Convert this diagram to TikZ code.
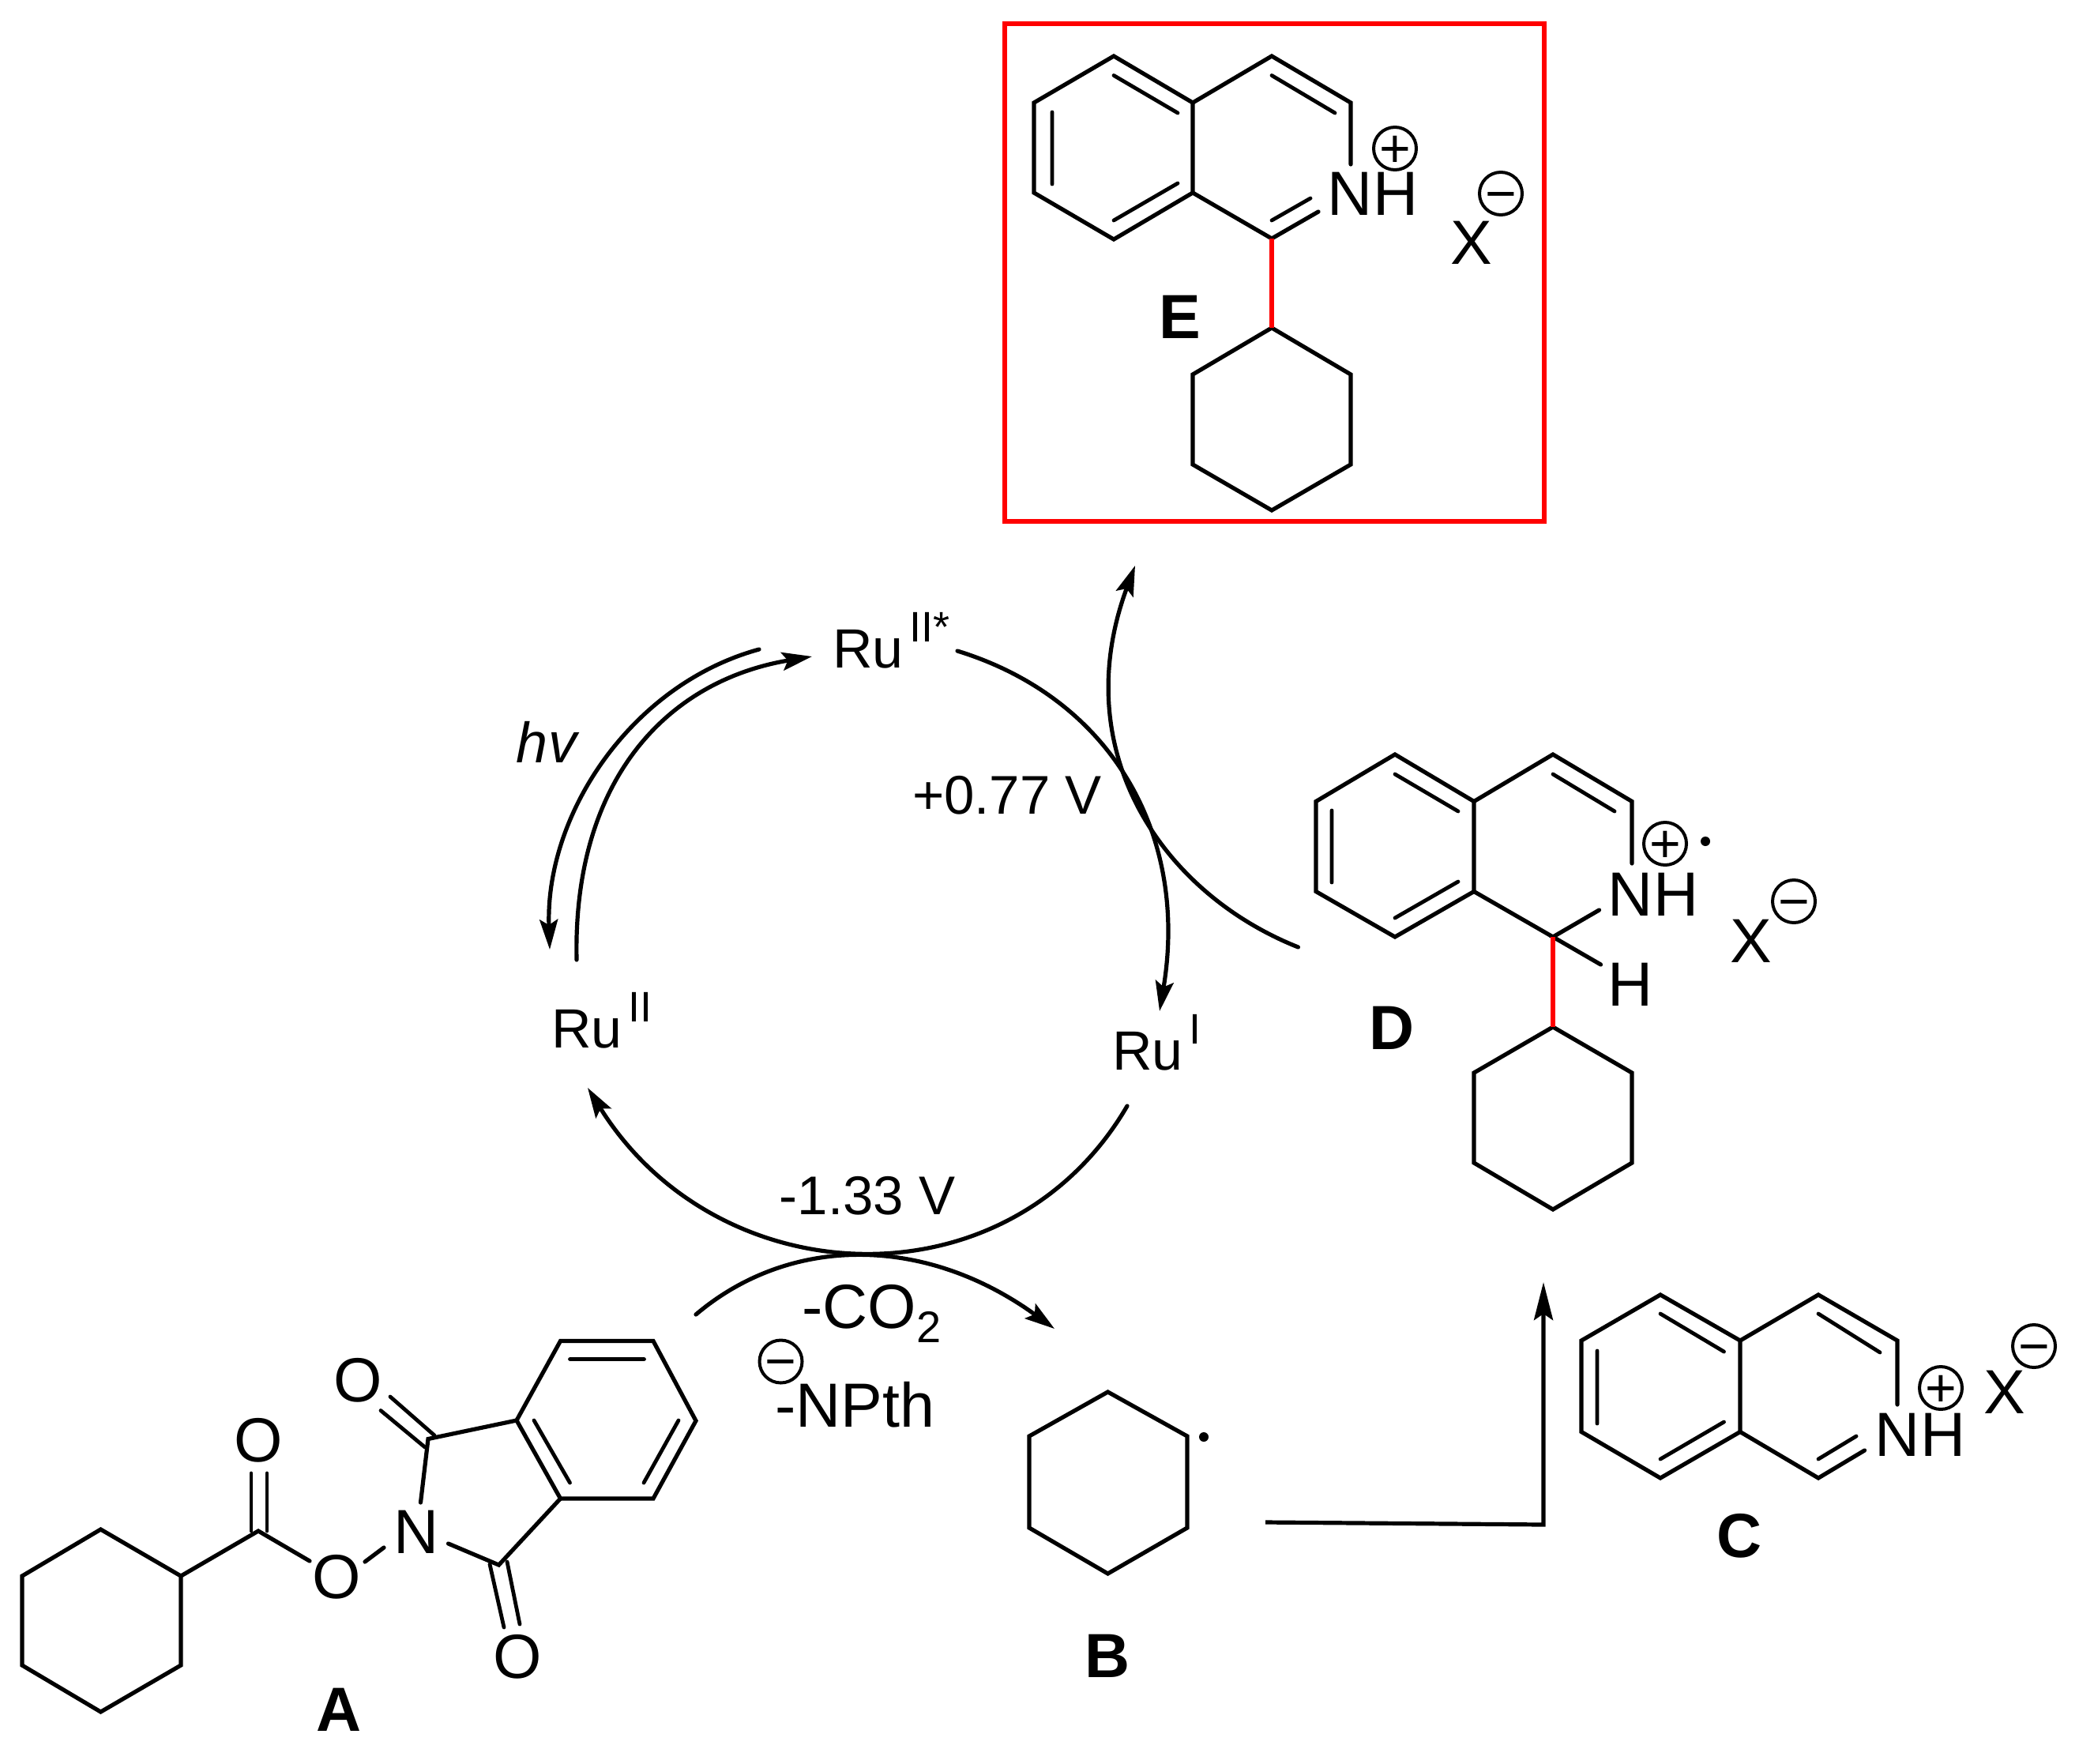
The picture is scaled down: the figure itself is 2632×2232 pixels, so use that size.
\documentclass[tikz,border=0pt]{standalone}
\usepackage{fontspec}
\setmainfont{Liberation Sans}
\usetikzlibrary{arrows.meta}
\tikzset{
  bond/.style={line width=2.6pt,line join=miter,black},
  dbl/.style={line width=2.4pt,line cap=round,black},
  redbond/.style={line width=2.8pt,red},
  arc/.style={line width=2.6pt,line cap=round,-{Stealth[length=19pt,width=11.5pt,inset=3.5pt]}},
  arcB/.style={line width=2.6pt,-{Stealth[length=24pt,width=12pt,inset=4pt]}},
  atomt/.style={inner sep=0pt,font=\fontsize{39.5}{42}\selectfont},
  label/.style={inner sep=0pt,font=\fontsize{39.5}{42}\selectfont\bfseries},
  rut/.style={inner sep=0pt,anchor=base west,font=\fontsize{35}{40}\selectfont},
  volt/.style={inner sep=0pt,anchor=base,font=\fontsize{34.5}{40}\selectfont},
  chg/.style={circle,draw,line width=2pt,inner sep=0pt,minimum size=27pt,font=\fontsize{34}{34}\selectfont},
  dotr/.style={circle,fill=black,inner sep=0pt,minimum size=6pt}
}
\newcommand{\chgplus}{\raisebox{-0.34em}[0pt][0pt]{+}}
\newcommand{\chgminus}{\raisebox{-0.34em}[0pt][0pt]{−}}
\newcommand{\supt}[2]{\hspace{#1}\raisebox{16.5pt}{\fontsize{27}{27}\selectfont #2}}
\begin{document}
\begin{tikzpicture}[x=0.5pt,y=-0.5pt]
\useasboundingbox (0,0) rectangle (2632,2232);
%% ---------- E ----------
\draw[red,line width=2.8pt] (1272,30) rectangle (1955,660);
\draw[bond] (1510,130)--(1410,71)--(1309,130)--(1309,244)--(1410,303)--(1510,244)--cycle;
\draw[bond,line cap=round] (1510,130)--(1610,71)--(1710,130)--(1710,208);
\draw[bond,line cap=round] (1510,244)--(1610,302)--(1669,268);
\draw[dbl] (1410,95.5)--(1491,143) (1332,142)--(1332,233) (1410,279)--(1491,232) (1610,95.5)--(1690,143) (1610,279)--(1659,251);
\draw[bond] (1610,415)--(1710,474)--(1710,588)--(1610,646)--(1510,588)--(1510,474)--cycle;
\draw[redbond] (1610,302)--(1610,415);
\node[atomt] (eNH) at (1738,245) {NH};
\node[chg] (eP) at (1766,188) {\chgplus};
\node[atomt] (eX) at (1863,307) {X};
\node[chg] (eM) at (1900,245) {\chgminus};
\node[label] (eL) at (1494,401) {E};
%% ---------- D ----------
\draw[bond] (1866,1014.5)--(1766,955)--(1666,1014.5)--(1666,1128.5)--(1766,1186)--(1866,1128.5)--cycle;
\draw[bond,line cap=round] (1866,1014.5)--(1966,955)--(2066,1014.5)--(2066,1093);
\draw[bond,line cap=round] (2024.5,1152)--(1966,1186)--(2026.5,1221);
\draw[bond] (1866,1128.5)--(1966,1186);
\draw[dbl] (1766,980)--(1846,1027) (1686,1026)--(1686,1117) (1766,1162)--(1846,1116) (1966,980)--(2044,1027);
\draw[bond] (1966,1300)--(2066,1358)--(2066,1472)--(1966,1531)--(1866,1472)--(1866,1358)--cycle;
\draw[redbond] (1966,1186)--(1966,1300);
\node[atomt] (dNH) at (2093,1132) {NH};
\node[atomt] (dH) at (2064,1246) {H};
\node[chg] (dP) at (2108,1068) {\chgplus};
\node[dotr] (dDot) at (2159,1065) {};
\node[atomt] (dX) at (2217,1191) {X};
\node[chg] (dM) at (2271,1141) {\chgminus};
\node[label] (dL) at (1762,1301) {D};
%% ---------- C ----------
\draw[bond] (2203,1697)--(2102,1639)--(2002,1697)--(2002,1812.5)--(2102,1871)--(2203,1812.5)--cycle;
\draw[bond,line cap=round] (2203,1697)--(2302,1639)--(2402,1697)--(2402,1778);
\draw[bond,line cap=round] (2203,1812.5)--(2302,1871)--(2360.5,1836);
\draw[dbl] (2102,1663)--(2182.5,1711) (2022,1710)--(2022,1802) (2102,1847)--(2182.5,1800) (2302,1663)--(2380,1712) (2302,1847)--(2350,1818);
\node[atomt] (cNH) at (2431,1816) {NH};
\node[chg] (cP) at (2457,1757) {\chgplus};
\node[atomt] (cX) at (2538,1762) {X};
\node[chg] (cM) at (2575,1704) {\chgminus};
\node[label] (cL) at (2202,1944) {C};
%% ---------- B ----------
\draw[bond] (1402.5,1762)--(1503,1818)--(1503,1934)--(1402.5,1992)--(1303,1934)--(1303,1818)--cycle;
\node[dotr] (bDot) at (1524,1819) {};
\node[label] (bL) at (1402,2096) {B};
%% ---------- A ----------
\draw[bond] (127.5,1936)--(229,1995)--(229,2108)--(127.5,2167)--(28,2108)--(28,1995)--cycle;
\draw[bond,line cap=round] (229,1995)--(327,1938)--(392,1976);
\draw[dbl] (318,1865)--(318,1938) (338,1865)--(338,1938);
\draw[bond,line cap=round] (462,1977)--(486,1959);
\draw[bond,line cap=round] (532.5,1902)--(542,1821.5)--(654,1798);
\draw[bond] (654,1798)--(709.5,1697.5)--(827,1697.5)--(881,1798.5)--(827,1897)--(709.5,1897)--cycle;
\draw[dbl] (721.5,1720.5)--(815.5,1720.5) (676,1798)--(721.5,1877) (859,1798)--(815,1877);
\draw[bond,line cap=round] (709.5,1897)--(631.5,1981)--(567.6,1954);
\draw[dbl] (494,1768)--(550,1817) (482,1785.5)--(538,1832) (620,1980)--(638,2060) (642,1977)--(658,2056);
\node[atomt] (aO1) at (327,1823) {O};
\node[atomt] (aO2) at (426.5,1996) {O};
\node[atomt] (aN) at (527,1939.5) {N};
\node[atomt] (aO3) at (453,1747) {O};
\node[atomt] (aO4) at (655,2097) {O};
\node[label] (aL) at (429,2164) {A};
%% ---------- cycle labels ----------
\node[rut] (ruS) at (1054,845) {Ru\supt{4pt}{II*}};
\node[rut] (ruII) at (698,1326) {Ru\supt{4pt}{II}};
\node[rut] (ruI) at (1408,1354) {Ru\supt{4pt}{I}};
\node[rut,anchor=base,font=\fontsize{36}{40}\selectfont\itshape] (hv) at (692,965) {hv};
\node[volt] (v1) at (1275,1030) {+0.77 V};
\node[volt] (v2) at (1098,1537) {-1.33 V};
\node[atomt,anchor=base west] (co2) at (1015,1681) {-CO\raisebox{-9pt}{\fontsize{28}{28}\selectfont 2}};
\node[atomt] (npth) at (1082,1778) {-NPth};
\node[chg] (nM) at (988.5,1723.5) {\chgminus};
%% ---------- connectors ----------
\coordinate (o1) at (961,822); \coordinate (o2) at (696,1202);
\coordinate (i1) at (730,1215); \coordinate (i2) at (1028,831);
\coordinate (r1) at (1212,824); \coordinate (r2) at (1468,1280);
\coordinate (d1) at (1643.5,1199); \coordinate (d2) at (1437,716);
\coordinate (s1) at (1427,1400); \coordinate (s2) at (744,1377);
\coordinate (a1) at (881,1664); \coordinate (a2) at (1335,1682);
\coordinate (b1) at (1602,1927); \coordinate (b2) at (1954,1930); \coordinate (b3) at (1954,1623);
\draw[arc] (o1) .. controls (800,866) and (690,1030) .. (o2);
\draw[arc] (i1) .. controls (725,990) and (842,862) .. (i2);
\draw[arc] (r1) .. controls (1410,885) and (1505,1060) .. (r2);
\draw[arc] (d1) .. controls (1470,1130) and (1350,950) .. (d2);
\draw[arc] (s1) .. controls (1277,1657) and (909,1642) .. (s2);
\draw[arc] (a1) .. controls (1000,1563) and (1171,1563) .. (a2);
\draw[arcB] (b1) -- (b2) -- (b3);
\end{tikzpicture}
\end{document}
